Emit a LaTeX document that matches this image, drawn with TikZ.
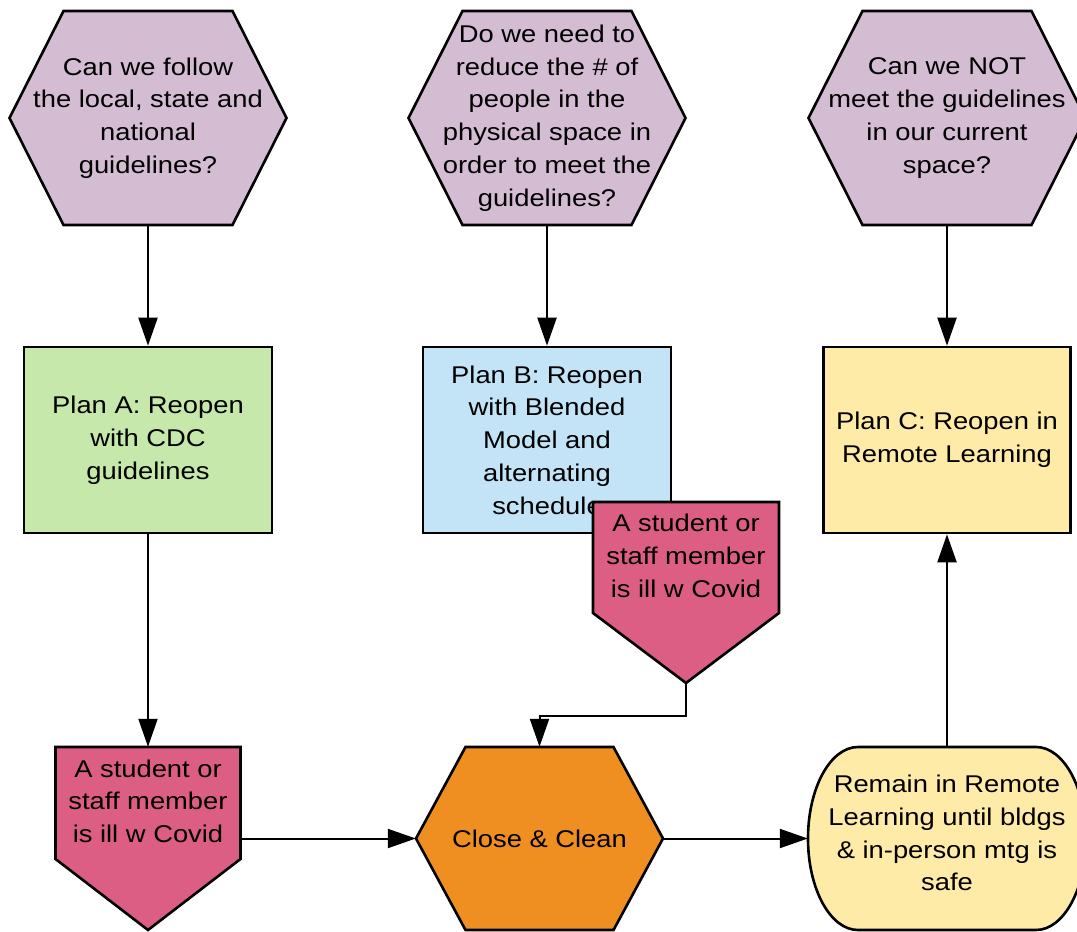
\documentclass[tikz,border=0pt]{standalone}
\usepackage{fontspec}
\setmainfont{Liberation Sans}[FakeStretch=1.13]
\usetikzlibrary{arrows.meta}
\definecolor{lilac}{RGB}{212,189,211}
\definecolor{planAgreen}{RGB}{198,232,170}
\definecolor{planBblue}{RGB}{194,228,246}
\definecolor{planCyellow}{RGB}{255,235,168}
\definecolor{covidpink}{RGB}{220,94,132}
\definecolor{cleanorange}{RGB}{239,143,34}
\begin{document}
\begin{tikzpicture}[x=1pt,y=-1pt,
  txt/.style={shape=rectangle, inner sep=0pt, draw=none, align=center,
    font=\fontsize{24.2}{32.8}\selectfont, text=black},
  outline/.style={draw=black, line width=2.6pt, line join=miter},
  planbox/.style={txt, outline, minimum width=248pt, minimum height=186pt},
  hexnode/.style={txt, minimum width=277pt, minimum height=214pt},
  conn/.style={draw=black, line width=2pt, -{Triangle[length=28pt,width=19pt]}},
]
\useasboundingbox (0,0) rectangle (1077,932);

% question hexagons
\filldraw[outline, fill=lilac] (9.5,118) -- (63.5,11) -- (232.5,11) -- (286.5,118) -- (232.5,225) -- (63.5,225) -- cycle;
\node[hexnode] (hexA) at (148,118) {Can we follow\\the local, state and\\national\\guidelines?};

\filldraw[outline, fill=lilac] (408.5,118) -- (462.5,11) -- (631.5,11) -- (685.5,118) -- (631.5,225) -- (462.5,225) -- cycle;
\node[hexnode] (hexB) at (547,118) {Do we need to\\reduce the \# of\\people in the\\physical space in\\order to meet the\\guidelines?};

\filldraw[outline, fill=lilac] (808.5,118) -- (862.5,11) -- (1031.5,11) -- (1085.5,118) -- (1031.5,225) -- (862.5,225) -- cycle;
\node[hexnode] (hexC) at (947,118) {Can we NOT\\meet the guidelines\\in our current\\space?};

% plans
\node[planbox, fill=planAgreen] (planA) at (148,440) {Plan A: Reopen\\with CDC\\guidelines};
\node[planbox, fill=planBblue] (planB) at (547,440) {Plan B: Reopen\\with Blended\\Model and\\alternating\\schedule};
\node[planbox, fill=planCyellow, minimum width=247pt] (planC) at (947,440) {Plan C: Reopen in\\Remote Learning};

% covid pentagon B (over plan B)
\filldraw[outline, fill=covidpink] (593,502) -- (779,502) -- (779,613) -- (686,683) -- (593,613) -- cycle;
\node[txt] (pentB) at (686,592.5) {\parbox[c][181pt][t]{186pt}{\centering\vspace*{12pt}A student or\\staff member\\is ill w Covid}};

% covid pentagon A
\filldraw[outline, fill=covidpink] (55.5,747) -- (240.5,747) -- (240.5,859) -- (148,930) -- (55.5,859) -- cycle;
\node[txt] (pentA) at (148,838.5) {\parbox[c][183pt][t]{185pt}{\centering\vspace*{12.5pt}A student or\\staff member\\is ill w Covid}};

% close & clean
\filldraw[outline, fill=cleanorange] (416,838.5) -- (465.5,747) -- (613.5,747) -- (663,838.5) -- (613.5,930) -- (465.5,930) -- cycle;
\node[txt, minimum width=247pt, minimum height=183pt] (close) at (539.5,838.5) {Close \& Clean};

% remain
\filldraw[outline, fill=planCyellow] (858,747) -- (1036,747)
  arc[start angle=-90, end angle=90, x radius=50, y radius=91.5] -- (858,930)
  arc[start angle=90, end angle=270, x radius=50, y radius=91.5] -- cycle;
\node[txt] (remain) at (947,838.5) {\parbox[c][183pt][c]{278pt}{\centering Remain in Remote\\Learning until bldgs\\\& in-person mtg is\\safe\par\vspace*{11pt}}};

% connectors
\draw[conn] (hexA.south) -- (planA.north);
\draw[conn] (hexB.south) -- (planB.north);
\draw[conn] (hexC.south) -- (planC.north);
\draw[conn] (planA.south) -- (pentA.north);
\draw[conn] (pentA.east) -- (close.west);
\draw[conn] (pentB.south) -- ++(0,32.5) -| (close.north);
\draw[conn] (close.east) -- (remain.west);
\draw[conn] (remain.north) -- (planC.south);
\end{tikzpicture}
\end{document}
